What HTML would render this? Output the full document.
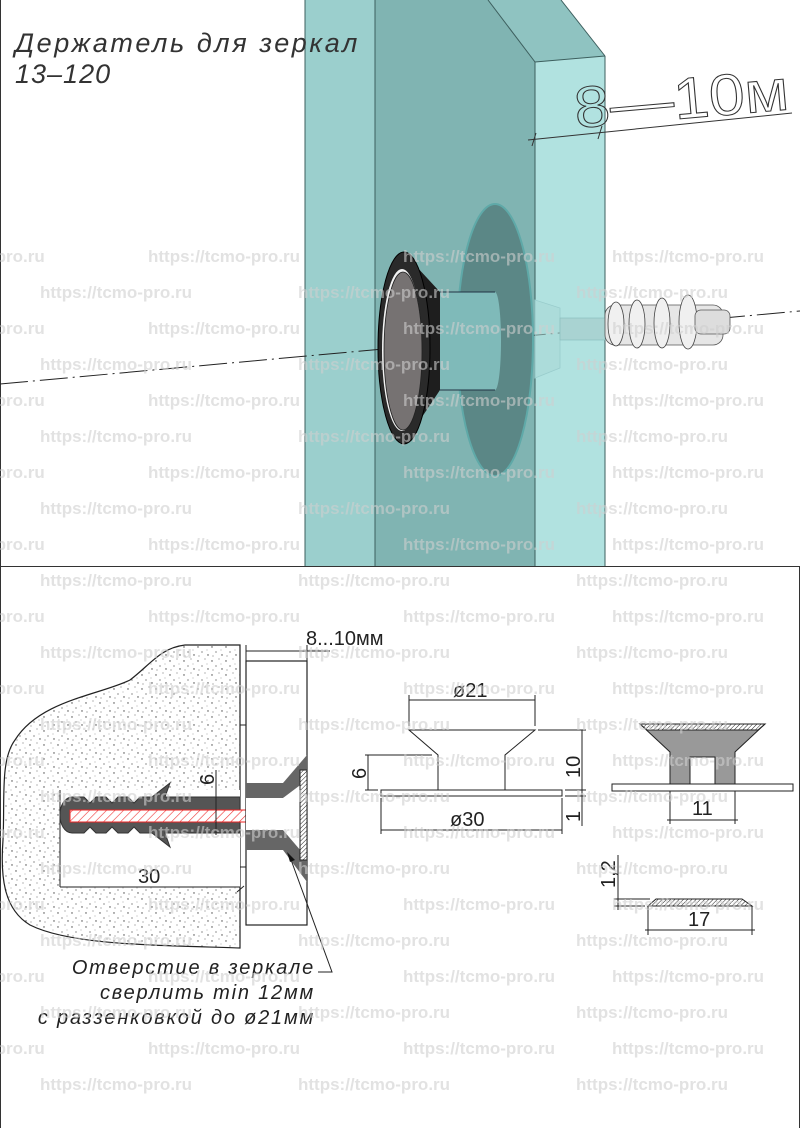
<!DOCTYPE html>
<html><head><meta charset="utf-8"><style>
html,body{margin:0;padding:0;background:#fff;}
svg{display:block;}
.cad{font-family:"Liberation Sans","DejaVu Sans",sans-serif;fill:#222;}
.wm{font-family:"Liberation Sans",sans-serif;font-weight:bold;font-size:17px;fill:#cfcfcf;fill-opacity:.6;}
</style></head><body>
<svg width="800" height="1128" viewBox="0 0 800 1128" xmlns="http://www.w3.org/2000/svg">
<defs>
<pattern id="dots" width="14" height="14" patternUnits="userSpaceOnUse">
<rect width="14" height="14" fill="#fff"/>
<circle cx="2" cy="3" r="0.7" fill="#444"/><circle cx="9" cy="1" r="0.5" fill="#444"/>
<circle cx="6" cy="8" r="0.6" fill="#444"/><circle cx="12" cy="11" r="0.7" fill="#444"/>
<circle cx="3" cy="12" r="0.5" fill="#444"/><circle cx="11" cy="6" r="0.4" fill="#444"/>
</pattern>
<pattern id="hatchR" width="6" height="6" patternUnits="userSpaceOnUse" patternTransform="rotate(45)">
<rect width="6" height="6" fill="#fff"/><line x1="0" y1="0" x2="0" y2="6" stroke="#e33" stroke-width="1.2"/>
</pattern>
<pattern id="hatchK" width="3" height="3" patternUnits="userSpaceOnUse" patternTransform="rotate(45)">
<rect width="3" height="3" fill="#fff"/><line x1="0" y1="0" x2="0" y2="3" stroke="#222" stroke-width="1"/>
</pattern>
</defs>

<!-- ===== TOP HALF ===== -->
<line x1="0.5" y1="0" x2="0.5" y2="566" stroke="#333"/>
<rect x="305" y="0" width="70" height="566" fill="#9bcfcd"/>
<polygon points="375,0 488,0 535,62 535,566 375,566" fill="#80b4b2"/>
<polygon points="488,0 561,0 605,56 535,62" fill="#8fc3c1"/>
<polygon points="535,62 605,56 605,566 535,566" fill="#b1e2e0"/>
<g stroke="#3d5f5e" stroke-width="1" fill="none">
<line x1="305" y1="0" x2="305" y2="566"/><line x1="375" y1="0" x2="375" y2="566"/>
<line x1="535" y1="62" x2="535" y2="566"/><line x1="605" y1="56" x2="605" y2="566"/>
<line x1="488" y1="0" x2="535" y2="62"/><line x1="561" y1="0" x2="605" y2="56"/>
<line x1="535" y1="62" x2="605" y2="56"/>
</g>
<line x1="0" y1="384" x2="800" y2="311" stroke="#222" stroke-width="1" stroke-dasharray="28,5,2,5"/>
<ellipse cx="495" cy="340" rx="38" ry="136" fill="#5b8786" stroke="#5fa9a8" stroke-width="2"/>
<rect x="440" y="292" width="55" height="98" fill="#7fbab9"/>
<ellipse cx="495" cy="341" rx="6" ry="49" fill="#7fbab9"/>
<line x1="440" y1="292" x2="495" y2="292" stroke="#234" stroke-width="1"/>
<line x1="440" y1="390" x2="495" y2="390" stroke="#234" stroke-width="1"/>
<polygon points="404,253 440,292 440,390 404,444" fill="#1e1e1e"/>
<ellipse cx="404" cy="348" rx="26" ry="96" fill="#2a2a2a" stroke="#000"/>
<ellipse cx="402" cy="350" rx="20" ry="81" fill="#f2f2f2"/>
<ellipse cx="403" cy="351" rx="19" ry="79" fill="#767272" stroke="#222" stroke-width="0.8"/>
<polygon points="535,300 560,308 560,368 535,378" fill="#a8d8d6" fill-opacity=".6" stroke="#9cc" stroke-width=".8"/>
<rect x="560" y="318" width="45" height="22" fill="#a9d3d2" stroke="#8bb" stroke-width=".6"/>
<rect x="605" y="305" width="118" height="40" rx="10" fill="#e6e6e6" stroke="#555" stroke-width=".8"/>
<g fill="#f0f0f0" stroke="#444" stroke-width=".8">
<ellipse cx="616" cy="324" rx="8" ry="22"/><ellipse cx="637" cy="324" rx="8" ry="24"/>
<ellipse cx="662" cy="323" rx="8" ry="25"/><ellipse cx="688" cy="322" rx="9" ry="27"/>
</g>
<rect x="695" y="310" width="35" height="24" rx="6" fill="#ddd" stroke="#555" stroke-width=".8"/>
<line x1="528" y1="140" x2="792" y2="113" stroke="#333" stroke-width="1"/>
<line x1="536" y1="133" x2="532" y2="146" stroke="#333"/><line x1="602" y1="126" x2="598" y2="139" stroke="#333"/>
<text class="cad" x="576" y="128" font-size="58" transform="rotate(-5 576 128)" textLength="215" lengthAdjust="spacingAndGlyphs" style="fill:none;stroke:#333;stroke-width:1">8—10м</text>
<text class="cad" x="15" y="52" font-size="27" font-style="italic" letter-spacing="2.6" style="fill:#333">Держатель для зеркал</text>
<text class="cad" x="15" y="83" font-size="27" font-style="italic" letter-spacing="1" style="fill:#333">13–120</text>
<line x1="0" y1="566.5" x2="800" y2="566.5" stroke="#333"/>

<!-- ===== BOTTOM ===== -->
<line x1="799.5" y1="566" x2="799.5" y2="1128" stroke="#333"/>
<line x1="0.5" y1="566" x2="0.5" y2="1128" stroke="#333"/>
<path d="M240,645 L185,645 C160,648 150,665 130,680 C100,695 40,700 15,740 C0,760 5,800 3,840 C0,880 5,910 30,925 C70,945 150,945 240,948 Z" fill="url(#dots)" stroke="#222" stroke-width="1.2"/>
<rect x="60" y="790" width="180" height="97" fill="#fff"/>
<line x1="60" y1="790" x2="60" y2="887" stroke="#222"/>
<line x1="60" y1="887" x2="240" y2="887" stroke="#222"/>
<line x1="244" y1="886" x2="237" y2="892" stroke="#222"/>
<text class="cad" x="138" y="883" font-size="20">30</text>
<path d="M240,797 L165,797 L170,783 L152,797 L140,797 L134,803 L128,797 L118,797 L112,803 L106,797 L96,797 L90,803 L84,797 L72,797 C56,798 56,832 72,833 L84,833 L90,827 L96,833 L106,833 L112,827 L118,833 L128,833 L134,827 L140,833 L152,833 L170,847 L165,833 L240,833 Z" fill="#555" stroke="#333"/>
<rect x="70" y="810" width="210" height="12" fill="url(#hatchR)" stroke="#e22"/>
<polygon points="280,810 290,800 292,800 292,832 290,832 280,822" fill="url(#hatchR)" stroke="#e22"/>
<line x1="216" y1="770" x2="216" y2="835" stroke="#222"/>
<text class="cad" font-size="20" transform="translate(214,785) rotate(-90)">6</text>
<rect x="246" y="661" width="61" height="264" fill="#fff" stroke="#222" stroke-width="1.2"/>
<line x1="240" y1="725" x2="246" y2="725" stroke="#222"/><line x1="240" y1="867" x2="246" y2="867" stroke="#222"/>
<polygon points="246,783 283,783 307,755 307,780 283,798 246,798" fill="#666"/>
<polygon points="246,830 283,830 307,858 307,882 283,850 246,850" fill="#666"/>
<polygon points="246,798 283,798 300,790 300,830 283,830 246,830" fill="#fff"/>
<rect x="300" y="770" width="7" height="90" fill="url(#hatchK)" stroke="#222"/>
<line x1="246" y1="651" x2="330" y2="651" stroke="#222"/>
<line x1="246" y1="645" x2="246" y2="661" stroke="#222"/><line x1="307" y1="645" x2="307" y2="661" stroke="#222"/>
<text class="cad" x="306" y="645" font-size="20">8...10мм</text>
<polyline points="318,972 332,972 290,857" fill="none" stroke="#222"/>
<polygon points="287,852 295,860 290,862" fill="#111"/>
<text class="cad" x="315" y="974" font-size="20" font-style="italic" text-anchor="end" letter-spacing="1.8">Отверстие в зеркале</text>
<text class="cad" x="315" y="999" font-size="20" font-style="italic" text-anchor="end" letter-spacing="1.8">сверлить min 12мм</text>
<text class="cad" x="315" y="1024" font-size="20" font-style="italic" text-anchor="end" letter-spacing="1.8">с раззенковкой до ø21мм</text>

<g stroke="#222" fill="none" stroke-width="1">
<polyline points="438,790 438,755 409,730 535,730 505,755 505,790"/>
<rect x="381" y="790" width="181" height="6" fill="#fff"/>
<line x1="409" y1="700" x2="535" y2="700"/><line x1="409" y1="695" x2="409" y2="726"/><line x1="535" y1="695" x2="535" y2="726"/>
<line x1="381" y1="830" x2="562" y2="830"/><line x1="381" y1="798" x2="381" y2="834"/><line x1="562" y1="798" x2="562" y2="834"/>
<line x1="368" y1="755" x2="368" y2="790"/><line x1="365" y1="755" x2="432" y2="755"/><line x1="365" y1="790" x2="378" y2="790"/>
<line x1="582" y1="730" x2="582" y2="826"/><line x1="538" y1="730" x2="586" y2="730"/>
<line x1="565" y1="796" x2="586" y2="796"/><line x1="565" y1="790" x2="586" y2="790"/>
</g>
<text class="cad" x="453" y="697" font-size="20">ø21</text>
<text class="cad" x="450" y="826" font-size="20">ø30</text>
<text class="cad" font-size="20" transform="translate(366,779) rotate(-90)">6</text>
<text class="cad" font-size="20" transform="translate(580,778) rotate(-90)">10</text>
<text class="cad" font-size="20" transform="translate(580,822) rotate(-90)">1</text>
<polygon points="640,724 765,724 735,752 735,784 715,784 715,757 690,757 690,784 670,784 670,752" fill="#999" stroke="#222"/>
<polygon points="640,724 765,724 758,730 647,730" fill="url(#hatchK)" stroke="#222"/>
<rect x="612" y="784" width="181" height="7" fill="#fff" stroke="#222"/>
<line x1="670" y1="791" x2="670" y2="824" stroke="#222"/><line x1="735" y1="791" x2="735" y2="824" stroke="#222"/>
<line x1="667" y1="820" x2="738" y2="820" stroke="#222"/>
<text class="cad" x="692" y="815" font-size="20">11</text>
<polygon points="648,906 656,899 742,899 752,906" fill="url(#hatchK)" stroke="#222"/>
<line x1="618" y1="855" x2="618" y2="910" stroke="#222"/>
<line x1="614" y1="899" x2="650" y2="899" stroke="#222"/><line x1="614" y1="906" x2="645" y2="906" stroke="#222"/>
<line x1="648" y1="906" x2="648" y2="935" stroke="#222"/><line x1="752" y1="906" x2="752" y2="935" stroke="#222"/>
<line x1="645" y1="930" x2="755" y2="930" stroke="#222"/>
<text class="cad" x="688" y="926" font-size="20">17</text>
<text class="cad" font-size="20" transform="translate(615,888) rotate(-90)">1,2</text>

<g class="wm">
<text x="-10" y="262">-pro.ru</text><text x="148" y="262">https://tcmo-pro.ru</text><text x="403" y="262">https://tcmo-pro.ru</text><text x="612" y="262">https://tcmo-pro.ru</text>
<text x="40" y="298">https://tcmo-pro.ru</text><text x="298" y="298">https://tcmo-pro.ru</text><text x="576" y="298">https://tcmo-pro.ru</text>
<text x="-10" y="334">-pro.ru</text><text x="148" y="334">https://tcmo-pro.ru</text><text x="403" y="334">https://tcmo-pro.ru</text><text x="612" y="334">https://tcmo-pro.ru</text>
<text x="40" y="370">https://tcmo-pro.ru</text><text x="298" y="370">https://tcmo-pro.ru</text><text x="576" y="370">https://tcmo-pro.ru</text>
<text x="-10" y="406">-pro.ru</text><text x="148" y="406">https://tcmo-pro.ru</text><text x="403" y="406">https://tcmo-pro.ru</text><text x="612" y="406">https://tcmo-pro.ru</text>
<text x="40" y="442">https://tcmo-pro.ru</text><text x="298" y="442">https://tcmo-pro.ru</text><text x="576" y="442">https://tcmo-pro.ru</text>
<text x="-10" y="478">-pro.ru</text><text x="148" y="478">https://tcmo-pro.ru</text><text x="403" y="478">https://tcmo-pro.ru</text><text x="612" y="478">https://tcmo-pro.ru</text>
<text x="40" y="514">https://tcmo-pro.ru</text><text x="298" y="514">https://tcmo-pro.ru</text><text x="576" y="514">https://tcmo-pro.ru</text>
<text x="-10" y="550">-pro.ru</text><text x="148" y="550">https://tcmo-pro.ru</text><text x="403" y="550">https://tcmo-pro.ru</text><text x="612" y="550">https://tcmo-pro.ru</text>
<text x="40" y="586">https://tcmo-pro.ru</text><text x="298" y="586">https://tcmo-pro.ru</text><text x="576" y="586">https://tcmo-pro.ru</text>
<text x="-10" y="622">-pro.ru</text><text x="148" y="622">https://tcmo-pro.ru</text><text x="403" y="622">https://tcmo-pro.ru</text><text x="612" y="622">https://tcmo-pro.ru</text>
<text x="40" y="658">https://tcmo-pro.ru</text><text x="298" y="658">https://tcmo-pro.ru</text><text x="576" y="658">https://tcmo-pro.ru</text>
<text x="-10" y="694">-pro.ru</text><text x="148" y="694">https://tcmo-pro.ru</text><text x="403" y="694">https://tcmo-pro.ru</text><text x="612" y="694">https://tcmo-pro.ru</text>
<text x="40" y="730">https://tcmo-pro.ru</text><text x="298" y="730">https://tcmo-pro.ru</text><text x="576" y="730">https://tcmo-pro.ru</text>
<text x="-10" y="766">-pro.ru</text><text x="148" y="766">https://tcmo-pro.ru</text><text x="403" y="766">https://tcmo-pro.ru</text><text x="612" y="766">https://tcmo-pro.ru</text>
<text x="40" y="802">https://tcmo-pro.ru</text><text x="298" y="802">https://tcmo-pro.ru</text><text x="576" y="802">https://tcmo-pro.ru</text>
<text x="-10" y="838">-pro.ru</text><text x="148" y="838">https://tcmo-pro.ru</text><text x="403" y="838">https://tcmo-pro.ru</text><text x="612" y="838">https://tcmo-pro.ru</text>
<text x="40" y="874">https://tcmo-pro.ru</text><text x="298" y="874">https://tcmo-pro.ru</text><text x="576" y="874">https://tcmo-pro.ru</text>
<text x="-10" y="910">-pro.ru</text><text x="148" y="910">https://tcmo-pro.ru</text><text x="403" y="910">https://tcmo-pro.ru</text><text x="612" y="910">https://tcmo-pro.ru</text>
<text x="40" y="946">https://tcmo-pro.ru</text><text x="298" y="946">https://tcmo-pro.ru</text><text x="576" y="946">https://tcmo-pro.ru</text>
<text x="-10" y="982">-pro.ru</text><text x="148" y="982">https://tcmo-pro.ru</text><text x="403" y="982">https://tcmo-pro.ru</text><text x="612" y="982">https://tcmo-pro.ru</text>
<text x="40" y="1018">https://tcmo-pro.ru</text><text x="298" y="1018">https://tcmo-pro.ru</text><text x="576" y="1018">https://tcmo-pro.ru</text>
<text x="-10" y="1054">-pro.ru</text><text x="148" y="1054">https://tcmo-pro.ru</text><text x="403" y="1054">https://tcmo-pro.ru</text><text x="612" y="1054">https://tcmo-pro.ru</text>
<text x="40" y="1090">https://tcmo-pro.ru</text><text x="298" y="1090">https://tcmo-pro.ru</text><text x="576" y="1090">https://tcmo-pro.ru</text>
</g>
</svg>
</body></html>
